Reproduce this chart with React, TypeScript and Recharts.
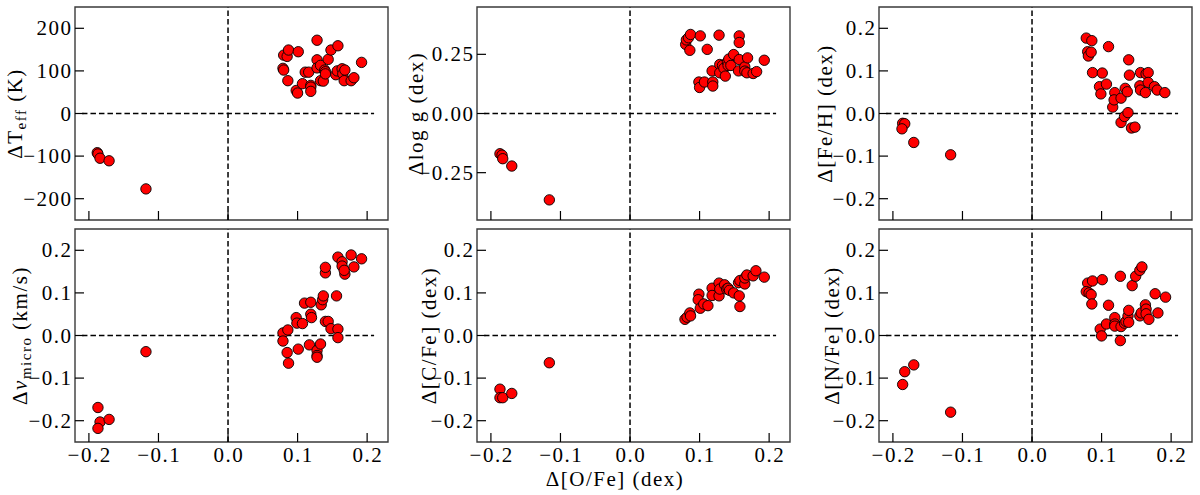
import React from "react";
import { ScatterChart, Scatter, XAxis, YAxis, ReferenceLine, ReferenceArea } from "recharts";

// ---------- shared axis values ----------
const xDomain: [number, number] = [-0.22, 0.23];
const xTicks = [-0.2, -0.1, 0, 0.1, 0.2];
const xTickLabels = ["−0.2", "−0.1", "0.0", "0.1", "0.2"];

const teffTicks = [-200, -100, 0, 100, 200];
const teffTickLabels = ["−200", "−100", "0", "100", "200"];
const loggTicks = [-0.25, 0, 0.25];
const loggTickLabels = ["−0.25", "0.00", "0.25"];
const abTicks = [-0.2, -0.1, 0, 0.1, 0.2];
const abTickLabels = ["−0.2", "−0.1", "0.0", "0.1", "0.2"];

// ---------- panel data ----------
const teffX = [-0.188, -0.187, -0.184, -0.171, -0.118, 0.079, 0.08, 0.08, 0.085, 0.087, 0.086, 0.101, 0.098, 0.1, 0.107, 0.111, 0.116, 0.119, 0.119, 0.119, 0.128, 0.128, 0.128, 0.133, 0.133, 0.137, 0.139, 0.14, 0.14, 0.144, 0.148, 0.155, 0.157, 0.158, 0.164, 0.165, 0.168, 0.167, 0.177, 0.181, 0.192];
const teffY = [-92, -95, -105, -111, -177, 106, 102, 137, 134, 149, 77, 145, 54, 48, 70, 97, 97, 66, 62, 52, 172, 126, 107, 113, 77, 76, 102, 98, 93, 127, 149, 91, 100, 159, 105, 93, 102, 77, 77, 84, 120];

const loggX = [-0.187, -0.184, -0.183, -0.17, -0.116, 0.08, 0.081, 0.084, 0.087, 0.086, 0.101, 0.111, 0.099, 0.1, 0.107, 0.119, 0.119, 0.118, 0.128, 0.129, 0.129, 0.133, 0.135, 0.137, 0.14, 0.141, 0.142, 0.145, 0.149, 0.157, 0.157, 0.157, 0.156, 0.165, 0.165, 0.168, 0.169, 0.177, 0.182, 0.193];
const loggY = [-0.17, -0.176, -0.191, -0.222, -0.365, 0.292, 0.311, 0.32, 0.334, 0.267, 0.328, 0.271, 0.133, 0.11, 0.133, 0.133, 0.116, 0.18, 0.331, 0.207, 0.172, 0.203, 0.191, 0.158, 0.218, 0.203, 0.23, 0.203, 0.249, 0.328, 0.3, 0.228, 0.18, 0.197, 0.179, 0.172, 0.235, 0.169, 0.177, 0.225];

const fehX = [-0.186, -0.183, -0.187, -0.17, -0.117, 0.078, 0.086, 0.08, 0.081, 0.085, 0.087, 0.101, 0.097, 0.099, 0.107, 0.11, 0.116, 0.119, 0.118, 0.128, 0.128, 0.133, 0.134, 0.137, 0.138, 0.139, 0.14, 0.143, 0.148, 0.155, 0.156, 0.156, 0.163, 0.164, 0.167, 0.167, 0.176, 0.18, 0.191];
const fehY = [-0.023, -0.024, -0.036, -0.068, -0.097, 0.177, 0.171, 0.145, 0.135, 0.144, 0.096, 0.095, 0.063, 0.046, 0.069, 0.157, 0.015, 0.049, 0.032, 0.036, -0.021, -0.007, 0.059, 0.051, 0.002, 0.126, 0.09, -0.034, -0.032, 0.065, 0.096, 0.055, 0.049, 0.093, 0.096, 0.073, 0.063, 0.055, 0.049];

const vmicX = [-0.187, -0.184, -0.187, -0.171, -0.118, 0.079, 0.079, 0.086, 0.085, 0.087, 0.098, 0.099, 0.101, 0.107, 0.11, 0.119, 0.119, 0.12, 0.117, 0.128, 0.128, 0.128, 0.133, 0.134, 0.136, 0.137, 0.14, 0.14, 0.14, 0.144, 0.148, 0.156, 0.158, 0.158, 0.158, 0.164, 0.164, 0.168, 0.167, 0.177, 0.181, 0.192];
const vmicY = [-0.169, -0.203, -0.218, -0.197, -0.038, 0.006, -0.013, 0.013, -0.04, -0.065, 0.042, 0.029, -0.032, 0.028, 0.076, 0.078, 0.05, 0.042, -0.022, -0.035, -0.047, -0.051, -0.02, 0.072, 0.084, 0.093, 0.033, 0.147, 0.16, 0.033, 0.016, 0.093, 0.015, -0.005, 0.184, 0.173, 0.163, 0.144, 0.153, 0.189, 0.161, 0.18];

const cfeX = [-0.187, -0.187, -0.183, -0.17, -0.116, 0.079, 0.082, 0.086, 0.087, 0.099, 0.098, 0.101, 0.106, 0.112, 0.118, 0.118, 0.128, 0.128, 0.129, 0.136, 0.139, 0.141, 0.143, 0.149, 0.157, 0.158, 0.156, 0.158, 0.165, 0.165, 0.168, 0.177, 0.181, 0.193];
const cfeY = [-0.126, -0.146, -0.146, -0.136, -0.064, 0.038, 0.043, 0.053, 0.046, 0.097, 0.084, 0.064, 0.074, 0.07, 0.111, 0.094, 0.123, 0.093, 0.109, 0.119, 0.109, 0.111, 0.106, 0.1, 0.093, 0.068, 0.124, 0.129, 0.121, 0.135, 0.142, 0.14, 0.152, 0.137];

const nfeX = [-0.186, -0.183, -0.17, -0.117, 0.08, 0.087, 0.078, 0.082, 0.085, 0.086, 0.101, 0.11, 0.098, 0.1, 0.107, 0.119, 0.119, 0.119, 0.127, 0.128, 0.127, 0.133, 0.135, 0.138, 0.139, 0.139, 0.144, 0.149, 0.155, 0.158, 0.155, 0.157, 0.163, 0.164, 0.164, 0.168, 0.177, 0.181, 0.192];
const nfeY = [-0.115, -0.085, -0.069, -0.18, 0.123, 0.128, 0.103, 0.1, 0.096, 0.074, 0.131, 0.071, 0.015, -0.001, 0.027, 0.042, 0.027, 0.022, 0.139, 0.021, -0.012, 0.029, 0.033, 0.046, 0.059, 0.031, 0.117, 0.139, 0.153, 0.161, 0.046, 0.053, 0.072, 0.062, 0.051, 0.038, 0.098, 0.053, 0.09];

// ---------- layout ----------
const FONT = "'Liberation Serif', 'Times New Roman', serif";
const FS = 21;
const LS = 1.5;
const PW = 313;
const PH = 213;
const PAD_L = 80;
const PAD_T = 6;
const PAD_R = 8;
const PAD_B = 50;
const TICK_LEN = 9;
const X_TICK_MARGIN = 20;
const Y_TICK_MARGIN = 4;
const colLeft = [75, 477, 879];
const rowTop = [7, 229];

const Dot = (props: any) => {
  const { cx, cy } = props;
  if (cx == null || cy == null) return null;
  return <circle cx={cx} cy={cy} r={5.2} fill="#ff0000" stroke="#000" strokeWidth={0.9} />;
};

type PanelProps = {
  xs: number[];
  ys: number[];
  yDomain: [number, number];
  yTicks: number[];
  yTickLabels: string[];
  left: number;
  top: number;
  showX: boolean;
  yLabel: React.ReactNode;
  yLabelOffset: number;
  xLabel?: string;
};

function Panel(p: PanelProps) {
  const data = p.xs.map((x, i) => ({ x, y: p.ys[i] }));
  const renderXTick = (tp: any) => {
    const { x, y, payload } = tp;
    const idx = xTicks.indexOf(payload.value);
    const axisY = y - X_TICK_MARGIN;
    return (
      <g>
        <line x1={x} x2={x} y1={axisY} y2={axisY - TICK_LEN} stroke="#000" strokeWidth={1.2} />
        {p.showX && (
          <text x={x + LS / 2} y={y} textAnchor="middle" fontFamily={FONT} fontSize={FS} letterSpacing={LS} fill="#000">
            {xTickLabels[idx]}
          </text>
        )}
      </g>
    );
  };
  const renderYTick = (tp: any) => {
    const { x, y, payload } = tp;
    const idx = p.yTicks.indexOf(payload.value);
    const axisX = x + Y_TICK_MARGIN;
    return (
      <g>
        <line x1={axisX} x2={axisX + TICK_LEN} y1={y} y2={y} stroke="#000" strokeWidth={1.2} />
        <text x={x + LS} y={y} dy="0.34em" textAnchor="end" fontFamily={FONT} fontSize={FS} letterSpacing={LS} fill="#000">
          {p.yTickLabels[idx]}
        </text>
      </g>
    );
  };
  const cx = PAD_L - p.yLabelOffset;
  const cy = PAD_T + PH / 2;
  const YLab = () => (
    <text
      x={cx}
      y={cy}
      transform={`rotate(-90 ${cx} ${cy})`}
      textAnchor="middle"
      dominantBaseline="central"
      fontFamily={FONT}
      fontSize={FS}
      letterSpacing={LS}
      fill="#000"
    >
      {p.yLabel}
    </text>
  );
  const XLab = () => (
    <text
      x={615 - (p.left - PAD_L)}
      y={486 - (p.top - PAD_T)}
      textAnchor="middle"
      fontFamily={FONT}
      fontSize={FS}
      letterSpacing={LS}
      fill="#000"
    >
      {p.xLabel}
    </text>
  );
  return (
    <div style={{ position: "absolute", left: p.left - PAD_L, top: p.top - PAD_T }}>
      <ScatterChart
        width={PAD_L + PW + PAD_R}
        height={PAD_T + PH + PAD_B}
        margin={{ top: PAD_T, right: PAD_R, left: 0, bottom: 0 }}
      >
        <XAxis
          type="number"
          dataKey="x"
          domain={xDomain}
          ticks={xTicks}
          interval={0}
          allowDataOverflow
          axisLine={false}
          tickLine={false}
          tickSize={0}
          tickMargin={X_TICK_MARGIN}
          height={PAD_B}
          tick={renderXTick}
          label={p.xLabel ? <XLab /> : undefined}
        />
        <YAxis
          type="number"
          dataKey="y"
          domain={p.yDomain}
          ticks={p.yTicks}
          interval={0}
          allowDataOverflow
          axisLine={false}
          tickLine={false}
          tickSize={0}
          tickMargin={Y_TICK_MARGIN}
          width={PAD_L}
          tick={renderYTick}
          label={<YLab />}
        />
        <ReferenceLine x={0} stroke="#000" strokeWidth={1.5} strokeDasharray="5.5 3" />
        <ReferenceLine
          segment={[
            { x: -0.21, y: 0 },
            { x: 0.21, y: 0 },
          ]}
          stroke="#000"
          strokeWidth={1.5}
          strokeDasharray="5.5 3"
        />
        <Scatter data={data} isAnimationActive={false} shape={<Dot />} />
        <ReferenceArea
          x1={xDomain[0]}
          x2={xDomain[1]}
          y1={p.yDomain[0]}
          y2={p.yDomain[1]}
          fill="none"
          fillOpacity={0}
          stroke="#3a3a3a"
          strokeWidth={1.4}
        />
      </ScatterChart>
    </div>
  );
}

const SUB = { fontSize: 15 };

export default function App() {
  return (
    <div style={{ position: "absolute", left: 0, top: 0, width: 1200, height: 495, background: "#fff", overflow: "hidden" }}>
      <Panel
        xs={teffX}
        ys={teffY}
        yDomain={[-250, 250]}
        yTicks={teffTicks}
        yTickLabels={teffTickLabels}
        left={colLeft[0]}
        top={rowTop[0]}
        showX={false}
        yLabelOffset={60}
        yLabel={
          <>
            ΔT<tspan dy={6} {...SUB}>eff</tspan>
            <tspan dy={-6}> (K)</tspan>
          </>
        }
      />
      <Panel
        xs={loggX}
        ys={loggY}
        yDomain={[-0.45, 0.45]}
        yTicks={loggTicks}
        yTickLabels={loggTickLabels}
        left={colLeft[1]}
        top={rowTop[0]}
        showX={false}
        yLabelOffset={61}
        yLabel={<>Δlog g (dex)</>}
      />
      <Panel
        xs={fehX}
        ys={fehY}
        yDomain={[-0.25, 0.25]}
        yTicks={abTicks}
        yTickLabels={abTickLabels}
        left={colLeft[2]}
        top={rowTop[0]}
        showX={false}
        yLabelOffset={54}
        yLabel={<>Δ[Fe/H] (dex)</>}
      />
      <Panel
        xs={vmicX}
        ys={vmicY}
        yDomain={[-0.25, 0.25]}
        yTicks={abTicks}
        yTickLabels={abTickLabels}
        left={colLeft[0]}
        top={rowTop[1]}
        showX={true}
        yLabelOffset={55}
        yLabel={
          <>
            Δ<tspan fontStyle="italic">ν</tspan>
            <tspan dy={6} {...SUB}>micro</tspan>
            <tspan dy={-6}> (km/s)</tspan>
          </>
        }
      />
      <Panel
        xs={cfeX}
        ys={cfeY}
        yDomain={[-0.25, 0.25]}
        yTicks={abTicks}
        yTickLabels={abTickLabels}
        left={colLeft[1]}
        top={rowTop[1]}
        showX={true}
        yLabelOffset={48}
        yLabel={<>Δ[C/Fe] (dex)</>}
        xLabel="Δ[O/Fe] (dex)"
      />
      <Panel
        xs={nfeX}
        ys={nfeY}
        yDomain={[-0.25, 0.25]}
        yTicks={abTicks}
        yTickLabels={abTickLabels}
        left={colLeft[2]}
        top={rowTop[1]}
        showX={true}
        yLabelOffset={47}
        yLabel={<>Δ[N/Fe] (dex)</>}
      />
    </div>
  );
}
